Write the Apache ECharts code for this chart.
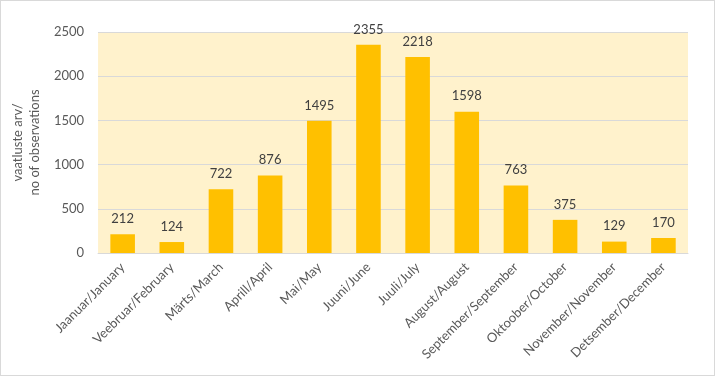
<!DOCTYPE html>
<html>
<head>
<meta charset="utf-8">
<script src="https://cdn.jsdelivr.net/npm/echarts@6/dist/echarts.min.js"></script>
<style>
  html, body { margin: 0; padding: 0; background: #fff; }
  #chart { width: 715px; height: 376px; box-sizing: border-box; border: 1px solid #d9d9d9; }
</style>
</head>
<body>
<div id="chart"></div>
<script>
// kuud / months
const months = [
  'Jaanuar/January', 'Veebruar/February', 'Märts/March', 'Aprill/April',
  'Mai/May', 'Juuni/June', 'Juuli/July', 'August/August',
  'September/September', 'Oktoober/October', 'November/November', 'Detsember/December'
]
// vaatluste arv / no of observations
const observations = [212, 124, 722, 876, 1495, 2355, 2218, 1598, 763, 375, 129, 170]
const yTicks = [0, 500, 1000, 1500, 2000, 2500]

const textColor = '#595959'
const fontFamily = 'Lato, "Open Sans", sans-serif'

const chart = echarts.init(document.getElementById('chart'))
chart.setOption({
  animation: false,
  textStyle: { fontFamily: fontFamily },
  grid: {
    left: 85,
    right: 26,
    top: 31,
    bottom: 122,
    show: true,
    backgroundColor: '#fff2cc',
    borderWidth: 0
  },
  xAxis: {
    type: 'category',
    data: months,
    axisLine: { show: true, lineStyle: { color: '#d9d9d9' } },
    axisTick: { show: false },
    axisLabel: {
      rotate: 45,
      interval: 0,
      color: textColor,
      fontSize: 13,
      margin: 12
    }
  },
  yAxis: {
    type: 'value',
    min: yTicks[0],
    max: yTicks[yTicks.length - 1],
    interval: 500,
    name: 'vaatluste arv/\nno of observations',
    nameLocation: 'middle',
    nameRotate: 90,
    nameGap: 50,
    nameTextStyle: { color: textColor, fontSize: 13, lineHeight: 17 },
    axisLine: { show: false },
    axisTick: { show: false },
    axisLabel: {
      color: textColor,
      fontSize: 13,
      margin: 14,
      formatter: (v) => String(v)
    },
    splitLine: { lineStyle: { color: '#d9d9d9' } }
  },
  series: [
    {
      type: 'bar',
      data: observations,
      barWidth: '50%',
      itemStyle: { color: '#ffc000' },
      label: {
        show: true,
        position: 'top',
        distance: 9,
        color: '#404040',
        fontSize: 13
      }
    }
  ]
})
</script>
</body>
</html>
